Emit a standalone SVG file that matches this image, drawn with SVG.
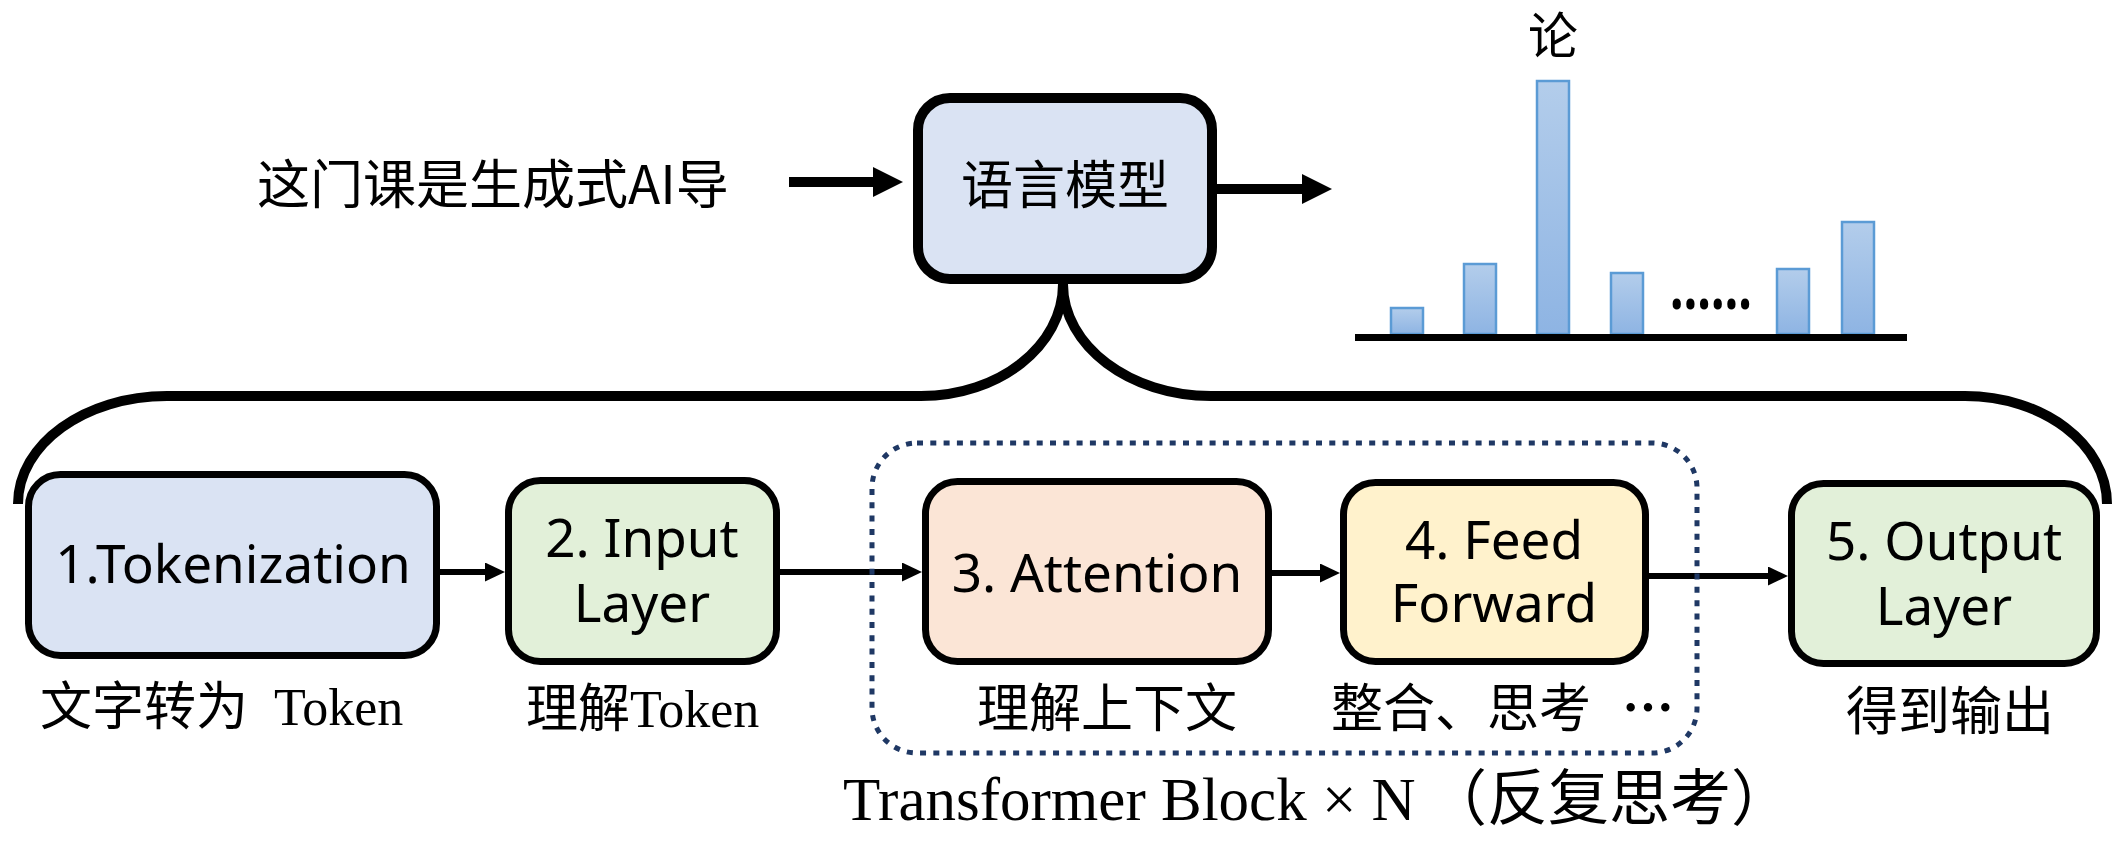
<svg xmlns="http://www.w3.org/2000/svg" width="2125" height="844" viewBox="0 0 2125 844">
<style>
.box{stroke:#000;stroke-width:7}
.lbl{font-family:"Noto Sans","Noto Sans CJK SC",sans-serif;font-size:53px;fill:#000;text-anchor:middle}
.cjk{font-family:"Noto Sans CJK SC",sans-serif;fill:#000}
.sub{font-family:"Liberation Serif","Noto Sans CJK SC",serif;font-size:52px;fill:#000}
.conn{stroke:#000;fill:none}
.bar{fill:url(#barGrad);stroke:#5B9BD5;stroke-width:2.5}
</style>
<defs>
<marker id="ahS" markerUnits="userSpaceOnUse" viewBox="0 0 20 19" markerWidth="20" markerHeight="19" refX="10" refY="9.5" orient="auto">
<path d="M0,0 L20,9.5 L0,19 z" fill="#000"/>
</marker>
<marker id="ahL" markerUnits="userSpaceOnUse" viewBox="0 0 30 30" markerWidth="30" markerHeight="30" refX="15" refY="15" orient="auto">
<path d="M0,0 L30,15 L0,30 z" fill="#000"/>
</marker>
<linearGradient id="barGrad" x1="0" y1="0" x2="0" y2="1">
<stop offset="0" stop-color="#B3CDEB"/>
<stop offset="1" stop-color="#8EB4E3"/>
</linearGradient>
</defs>
<rect width="2125" height="844" fill="#fff"/>

<g id="connectors">
<path class="conn" stroke-width="10" d="M18 504 C18 444 85 396 167 396 L921 396 C999 396 1063 346 1063 284 C1063 346 1130 396 1211 396 L1965 396 C2043 396 2107 444 2107 504"/>
<line class="conn" stroke-width="10" x1="789" y1="182" x2="888" y2="182" marker-end="url(#ahL)"/>
<line class="conn" stroke-width="10" x1="1217" y1="189" x2="1317" y2="189" marker-end="url(#ahL)"/>
<line class="conn" stroke-width="6" x1="434" y1="572" x2="495" y2="572" marker-end="url(#ahS)"/>
<line class="conn" stroke-width="6" x1="779" y1="572" x2="912" y2="572" marker-end="url(#ahS)"/>
<line class="conn" stroke-width="6" x1="1272" y1="573" x2="1330" y2="573" marker-end="url(#ahS)"/>
<line class="conn" stroke-width="6" x1="1649" y1="576" x2="1778" y2="576" marker-end="url(#ahS)"/>
</g>

<g id="input-text">
<text class="cjk" x="257" y="204" font-size="53">这门课是生成式AI导</text>
</g>

<g id="lm">
<rect x="918" y="98" width="294" height="181" rx="32" fill="#DAE3F3" stroke="#000" stroke-width="10"/>
<text class="cjk" x="1065" y="204" font-size="52" text-anchor="middle">语言模型</text>
</g>

<g id="chart">
<text class="cjk" x="1553" y="54" font-size="50" text-anchor="middle">论</text>
<rect class="bar" x="1391" y="308" width="32" height="26"/>
<rect class="bar" x="1464" y="264" width="32" height="70"/>
<rect class="bar" x="1537" y="81" width="32" height="253"/>
<rect class="bar" x="1611" y="273" width="32" height="61"/>
<rect class="bar" x="1777" y="269" width="32" height="65"/>
<rect class="bar" x="1842" y="222" width="32" height="112"/>
<text transform="translate(1670 309) scale(1 1.15)" x="0" y="0" font-family="Noto Sans, sans-serif" font-weight="bold" font-size="58" fill="#000" textLength="82" lengthAdjust="spacingAndGlyphs">……</text>
<rect x="1355" y="334" width="552" height="7" fill="#000"/>
</g>

<g id="transformer-block">
<rect x="872" y="443" width="825" height="310" rx="45" fill="none" stroke="#1F3864" stroke-width="5" stroke-dasharray="6 7.3"/>
<text y="820" font-family="Liberation Serif, Noto Sans CJK SC, serif" font-size="61" fill="#000"><tspan x="843">Transformer Block × N</tspan><tspan x="1426" font-family="Noto Sans CJK SC, sans-serif">（</tspan><tspan x="1487" font-family="Noto Sans CJK SC, sans-serif">反复思考</tspan><tspan x="1731" font-family="Noto Sans CJK SC, sans-serif">）</tspan></text>
</g>

<g id="tokenization">
<rect class="box" x="28.5" y="474.5" width="408" height="181" rx="32" fill="#DAE3F3"/>
<text class="lbl" x="233" y="583" font-size="52">1.Tokenization</text>
<text class="sub" x="40" y="725">文字转为 <tspan dx="13">Token</tspan></text>
</g>

<g id="input-layer">
<rect class="box" x="508.5" y="480.5" width="268" height="181" rx="32" fill="#E2F0D9"/>
<text class="lbl" x="642" y="557">2. Input</text>
<text class="lbl" x="642" y="622">Layer</text>
<text class="sub" x="526" y="727">理解Token</text>
</g>

<g id="attention">
<rect class="box" x="925.5" y="481.5" width="343" height="180" rx="32" fill="#FBE5D6"/>
<text class="lbl" x="1097" y="592">3. Attention</text>
<text class="sub" x="977" y="727">理解上下文</text>
</g>

<g id="feed-forward">
<rect class="box" x="1343.5" y="482.5" width="302" height="179" rx="32" fill="#FFF2CC"/>
<text class="lbl" x="1494" y="559">4. Feed</text>
<text class="lbl" x="1494" y="622">Forward</text>
<text class="sub" x="1331" y="727">整合、思考 <tspan dx="18" font-family="Noto Sans CJK SC, sans-serif" font-weight="bold">…</tspan></text>
</g>

<g id="output-layer">
<rect class="box" x="1791.5" y="483.5" width="305" height="180" rx="32" fill="#E2F0D9"/>
<text class="lbl" x="1944" y="560">5. Output</text>
<text class="lbl" x="1944" y="625">Layer</text>
<text class="sub" x="1846" y="730">得到输出</text>
</g>
</svg>
